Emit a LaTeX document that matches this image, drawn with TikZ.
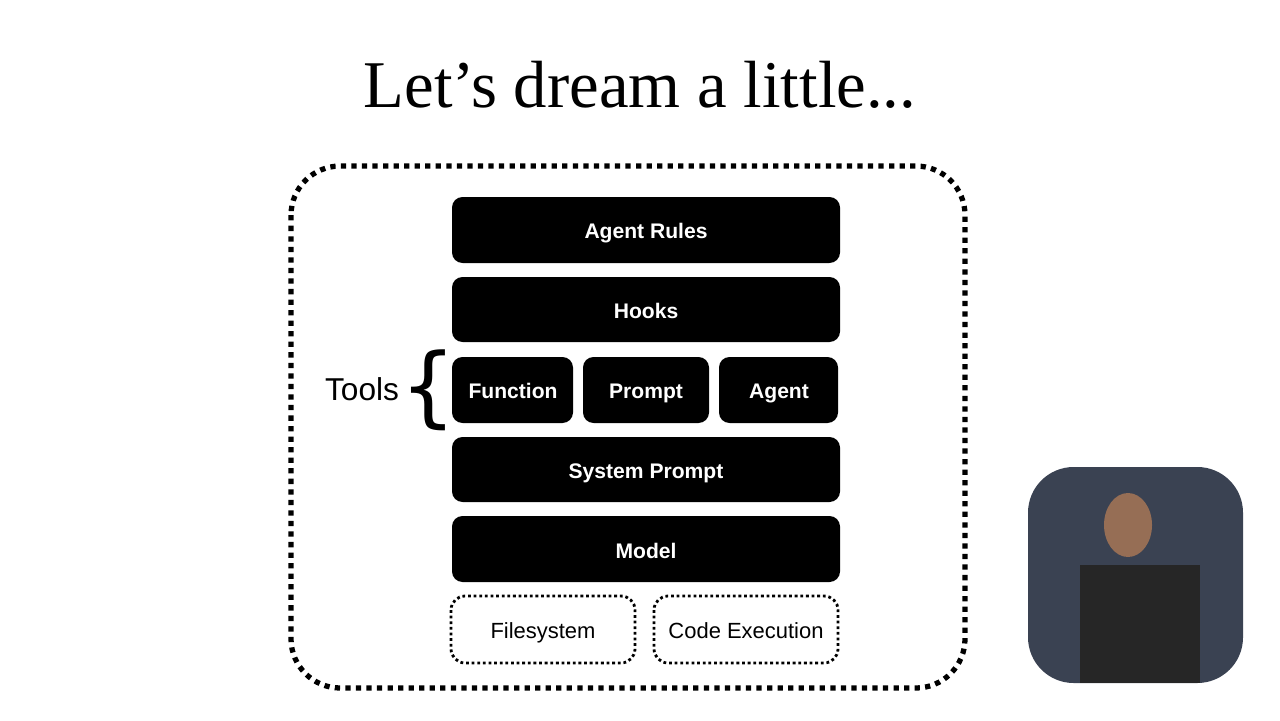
\documentclass[tikz,border=0pt]{standalone}
\usepackage{fontspec}
\setmainfont{Liberation Sans}
\newfontfamily\titlefont{Liberation Serif}
\newfontfamily\bracefont{DejaVu Sans}[Scale=1]
\definecolor{bg}{RGB}{58,66,82}
\definecolor{skin}{RGB}{150,110,85}
\begin{document}
\begin{tikzpicture}[x=0.02cm,y=-0.02cm,
  lbl/.style={text height=1.6ex,text depth=0.4ex,inner sep=0pt},
  blk/.style={fill=black,rounded corners=6pt},
  bt/.style={lbl,text=white,font=\fontsize{12}{14}\selectfont\bfseries},
  dbox/.style={draw=black,line width=1.6pt,dash pattern=on 1.6pt off 1.6pt,rounded corners=8pt},
  dt/.style={lbl,font=\fontsize{12.5}{14}\selectfont}]
\useasboundingbox (0,0) rectangle (1280,720);
\node (title) at (640,85) {\titlefont\fontsize{38}{44}\selectfont Let’s dream a little...};
\draw[line width=3pt,dash pattern=on 3pt off 3pt,rounded corners=28pt] (291,166) rectangle (965,688);
\fill[blk] (452,197) rectangle (840,263); \node[bt] (ar) at (646,233) {Agent Rules};
\fill[blk] (452,277) rectangle (840,342); \node[bt] (hk) at (646,313) {Hooks};
\fill[blk] (452,357) rectangle (573,423); \node[bt] (fn) at (513,393) {Function};
\fill[blk] (583,357) rectangle (709,423); \node[bt] (pr) at (646,393) {Prompt};
\fill[blk] (719,357) rectangle (838,423); \node[bt] (ag) at (779,393) {Agent};
\fill[blk] (452,437) rectangle (840,502); \node[bt] (sp) at (646,473) {System Prompt};
\fill[blk] (452,516) rectangle (840,582); \node[bt] (md) at (646,553) {Model};
\draw[dbox] (451,596) rectangle (635,663); \node[dt] (fs) at (543,633) {Filesystem};
\draw[dbox] (654,596) rectangle (838,663); \node[dt] (ce) at (746,633) {Code Execution};
\node[lbl] (tools) at (362,395) {\fontsize{18}{20}\selectfont Tools};
\node (brace) at (428,390) {\bracefont\fontsize{50}{56}\selectfont\{};
\fill[rounded corners=26pt,fill=bg] (1028,467) rectangle (1243,683);
\fill[fill=black!85] (1080,565) rectangle (1200,683);
\fill[fill=skin] (1128,525) ellipse (24 and 32);
\end{tikzpicture}
\end{document}
